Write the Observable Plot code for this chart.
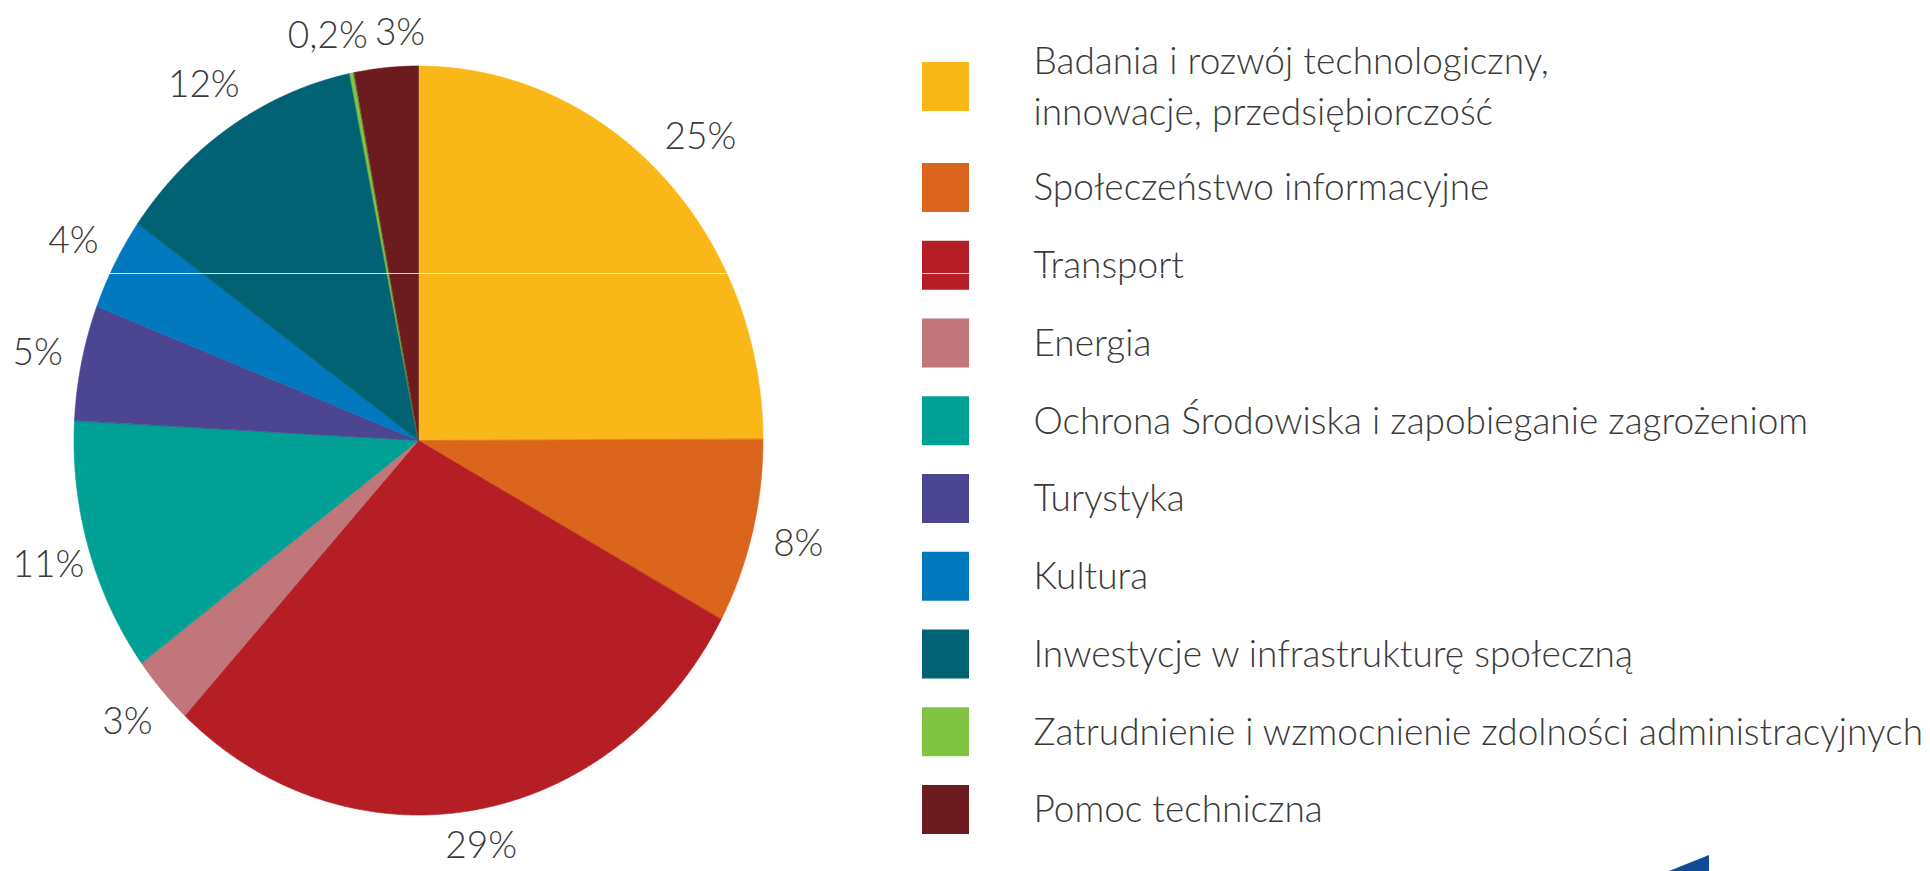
<!DOCTYPE html>
<html>
<head>
<meta charset="utf-8">
<script src="https://cdn.jsdelivr.net/npm/d3@7"></script>
<script src="https://cdn.jsdelivr.net/npm/@observablehq/plot@0.6"></script>
<style>
  html, body { margin: 0; padding: 0; background: #fff; overflow: hidden; }
  #wrap { position: relative; width: 1930px; height: 871px; }
  #deco { position: absolute; left: 1669px; top: 855px; width: 40px; height: 16px;
          background: #124a98; clip-path: polygon(100% 0, 100% 100%, 0 100%); }
</style>
</head>
<body>
<div id="wrap"><div id="deco"></div></div>
<script>
// ---- data ----
const categories = [
  "Badania i rozwój technologiczny,\ninnowacje, przedsiębiorczość",
  "Społeczeństwo informacyjne",
  "Transport",
  "Energia",
  "Ochrona Środowiska i zapobieganie zagrożeniom",
  "Turystyka",
  "Kultura",
  "Inwestycje w infrastrukturę społeczną",
  "Zatrudnienie i wzmocnienie zdolności administracyjnych",
  "Pomoc techniczna"
];
const values = [25, 8, 29, 3, 11, 5, 4, 12, 0.2, 3];
const valueLabels = ["25%", "8%", "29%", "3%", "11%", "5%", "4%", "12%", "0,2%", "3%"];
const colors = ["#f9b818", "#db651c", "#b51e25", "#c0767a", "#00a194", "#4c4692",
                "#0079bf", "#016273", "#80c242", "#6c1b1e"];

// ---- layout ----
const W = 1930, H = 871;
const CX = 418.5, CY = 440.5, RX = 344.5, RY = 374.5;
const FONT = 37;
const FONT_FAMILY = "Lato, 'Open Sans', sans-serif";
const TEXT_COLOR = "#3a3a3a";
const LABEL_GAP = 19;
const EDGE_PAD = 12;
const SW_X1 = 922, SW_X2 = 969, SW_H = 49;
const LEG_TEXT_X = 1033;
const seamY = [273];

const px = a => CX + RX * Math.sin(a);
const py = a => CY - RY * Math.cos(a);

const arcs = d3.pie().sort(null).value(d => d)(values);
const sectorPts = [];
arcs.forEach((arc, i) => {
  const n = Math.max(2, Math.ceil((arc.endAngle - arc.startAngle) / (Math.PI / 720)));
  for (let k = 0; k <= n; k++) {
    const a = arc.startAngle + (arc.endAngle - arc.startAngle) * k / n;
    sectorPts.push({cat: categories[i], x: px(a), y: py(a)});
  }
});

// label placement: outside the edge at the slice's mid angle, nudged apart when boxes collide
const ctx = document.createElement("canvas").getContext("2d");
ctx.font = `300 ${FONT}px ${FONT_FAMILY}`;
const boxW = valueLabels.map(t => ctx.measureText(t).width);
const boxH = FONT * 0.74;
const angles = arcs.map(arc => (arc.startAngle + arc.endAngle) / 2);
function place(i) {
  const a = angles[i];
  const ux = Math.sin(a), uy = -Math.cos(a);
  const off = LABEL_GAP + Math.abs(ux) * boxW[i] / 2 + Math.abs(uy) * boxH / 2;
  let x = px(a) + ux * off, y = py(a) + uy * off;
  x = Math.max(boxW[i] / 2 + EDGE_PAD, Math.min(W - boxW[i] / 2 - EDGE_PAD, x));
  y = Math.max(boxH / 2 + EDGE_PAD, Math.min(H - boxH / 2 - EDGE_PAD, y));
  return {x, y};
}
function overlap(i, j) {
  const p = place(i), q = place(j), pad = 6;
  return Math.abs(p.x - q.x) < (boxW[i] + boxW[j]) / 2 + pad &&
         Math.abs(p.y - q.y) < boxH + pad;
}
for (let iter = 0; iter < 400; iter++) {
  let moved = false;
  for (let i = 0; i < angles.length; i++) {
    const j = (i + 1) % angles.length;
    if (overlap(i, j)) { angles[i] -= 0.004; angles[j] += 0.004; moved = true; }
  }
  if (!moved) break;
}
const labelRows = valueLabels.map((t, i) => ({text: t, ...place(i)}));

const legendRows = categories.map((c, i) => ({
  cat: c,
  yc: i === 0 ? 86.5 : 187.5 + 77.75 * (i - 1)
}));

const chart = Plot.plot({
  width: W, height: H,
  margin: 0,
  x: {domain: [0, W], range: [0, W], axis: null},
  y: {domain: [0, H], range: [0, H], axis: null},
  color: {domain: categories, range: colors},
  style: {fontFamily: FONT_FAMILY, background: "white"},
  marks: [
    Plot.area(sectorPts, {
      x1: () => CX, y1: () => CY, x2: "x", y2: "y",
      z: "cat", fill: "cat", stroke: "cat", strokeWidth: 0.6
    }),
    Plot.text(labelRows, {
      x: "x", y: "y", text: "text",
      fontSize: FONT, fontWeight: 300, fill: TEXT_COLOR,
      textAnchor: "middle", lineAnchor: "middle"
    }),
    Plot.rect(legendRows, {
      x1: () => SW_X1, x2: () => SW_X2,
      y1: d => d.yc - SW_H / 2, y2: d => d.yc + SW_H / 2,
      fill: "cat"
    }),
    Plot.text(legendRows, {
      x: () => LEG_TEXT_X, y: d => d.yc - 4, text: "cat",
      fontSize: FONT, fontWeight: 300, fill: TEXT_COLOR,
      textAnchor: "start", lineAnchor: "middle", lineHeight: 1.39
    }),
    Plot.ruleY(seamY, {stroke: "white", strokeWidth: 1, strokeOpacity: 0.8})
  ]
});
document.getElementById("wrap").prepend(chart);
</script>
</body>
</html>
